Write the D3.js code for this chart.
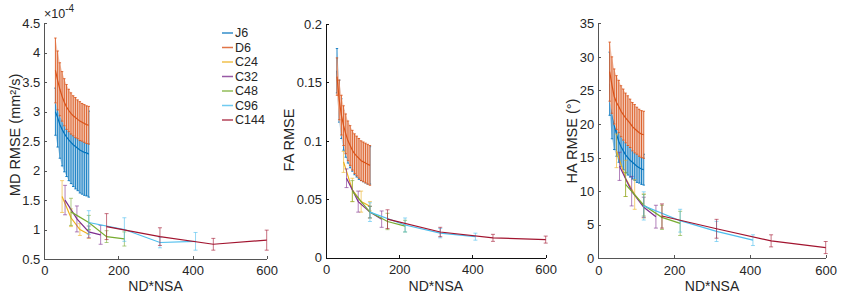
<!DOCTYPE html>
<html>
<head>
<meta charset="utf-8">
<script src="https://cdn.jsdelivr.net/npm/d3@7"></script>
<style>
  body { margin: 0; background: #fff; }
  text { font-family: "Liberation Sans", Arial, sans-serif; fill: #262626; }
</style>
</head>
<body>
<svg id="chart" width="854" height="295"></svg>
<script>
// series names
const seriesNames = ['J6', 'D6', 'C24', 'C32', 'C48', 'C96', 'C144'];

// ND*NSA positions per series
const ndnsaJ6 = [30, 36, 42, 48, 54, 60, 66, 72, 78, 84, 90, 96, 102, 108, 114, 120];
const ndnsaD6 = [30, 36, 42, 48, 54, 60, 66, 72, 78, 84, 90, 96, 102, 108, 114, 120];
const ndnsaC24 = [48, 72, 96, 120];
const ndnsaC32 = [56, 88, 120, 152];
const ndnsaC48 = [72, 120, 168, 216];
const ndnsaC96 = [120, 216, 312, 408];
const ndnsaC144 = [168, 312, 456, 600];

// MD RMSE (x 1e-4 mm^2/s): mean and error half-width
const mdMean = {
  J6: [3.0, 2.9, 2.78, 2.7, 2.63, 2.57, 2.52, 2.48, 2.44, 2.41, 2.38, 2.35, 2.33, 2.31, 2.3, 2.28],
  D6: [3.7, 3.53, 3.38, 3.26, 3.16, 3.08, 3.02, 2.97, 2.93, 2.9, 2.87, 2.84, 2.82, 2.8, 2.78, 2.77],
  C24: [1.56, 1.2, 1.0, 0.92],
  C32: [1.5, 1.18, 0.96, 0.91],
  C48: [1.3, 1.12, 0.88, 0.84],
  C96: [1.12, 1.0, 0.78, 0.8],
  C144: [1.05, 0.88, 0.75, 0.82]
};
const mdErr = {
  J6: [0.4, 0.5, 0.57, 0.62, 0.65, 0.67, 0.69, 0.7, 0.71, 0.72, 0.72, 0.73, 0.73, 0.73, 0.73, 0.73],
  D6: [0.55, 0.5, 0.45, 0.42, 0.4, 0.38, 0.36, 0.35, 0.34, 0.34, 0.33, 0.33, 0.32, 0.32, 0.32, 0.32],
  C24: [0.27, 0.15, 0.1, 0.07],
  C32: [0.25, 0.22, 0.1, 0.16],
  C48: [0.23, 0.12, 0.1, 0.12],
  C96: [0.2, 0.2, 0.09, 0.15],
  C144: [0.22, 0.15, 0.1, 0.17]
};

// FA RMSE
const faMean = {
  J6: [0.16, 0.134, 0.119, 0.109, 0.102, 0.097, 0.093, 0.09, 0.087, 0.085, 0.083, 0.082, 0.081, 0.08, 0.079, 0.079],
  D6: [0.155, 0.135, 0.122, 0.113, 0.106, 0.1, 0.096, 0.092, 0.089, 0.087, 0.085, 0.083, 0.082, 0.081, 0.08, 0.079],
  C24: [0.082, 0.058, 0.048, 0.044],
  C32: [0.068, 0.048, 0.039, 0.033],
  C48: [0.057, 0.039, 0.031, 0.027],
  C96: [0.039, 0.028, 0.021, 0.018],
  C144: [0.033, 0.022, 0.017, 0.0155]
};
const faErr = {
  J6: [0.019, 0.018, 0.017, 0.017, 0.016, 0.016, 0.016, 0.016, 0.016, 0.016, 0.016, 0.016, 0.016, 0.016, 0.016, 0.016],
  D6: [0.016, 0.017, 0.017, 0.017, 0.017, 0.017, 0.017, 0.017, 0.017, 0.017, 0.017, 0.017, 0.017, 0.017, 0.017, 0.017],
  C24: [0.009, 0.01, 0.009, 0.004],
  C32: [0.008, 0.009, 0.005, 0.007],
  C48: [0.009, 0.005, 0.007, 0.005],
  C96: [0.008, 0.006, 0.004, 0.003],
  C144: [0.008, 0.004, 0.003, 0.003]
};

// HA RMSE (degrees)
const haMean = {
  J6: [26, 22, 19.8, 18.5, 17.4, 16.6, 16, 15.4, 15, 14.6, 14.3, 14, 13.7, 13.5, 13.3, 13.2],
  D6: [27.8, 25.8, 24.1, 23.2, 22.6, 21.9, 21.4, 20.9, 20.5, 20.1, 19.6, 19.3, 19.0, 18.7, 18.5, 18.4],
  C24: [16, 11.9, 9.5, 7.8],
  C32: [13.7, 10, 7.6, 6.2],
  C48: [11, 7.9, 6.1, 5.2],
  C96: [7.8, 5.6, 4.0, 2.7],
  C144: [6.3, 4.4, 2.6, 1.6]
};
const haErr = {
  J6: [4.7, 4.2, 3.6, 3.3, 3.1, 2.9, 2.8, 2.7, 2.6, 2.5, 2.5, 2.4, 2.4, 2.3, 2.3, 2.3],
  D6: [4.4, 4.2, 4.1, 4.0, 3.9, 3.8, 3.8, 3.7, 3.7, 3.6, 3.6, 3.6, 3.5, 3.5, 3.5, 3.5],
  C24: [2.5, 2.7, 2.2, 1.8],
  C32: [2.1, 2.2, 1.5, 1.7],
  C48: [1.8, 1.6, 1.8, 1.8],
  C96: [2.1, 1.7, 1.5, 0.8],
  C144: [1.8, 1.4, 0.9, 0.9]
};

// tick labels
const xTicks = [0, 200, 400, 600];
const mdTicks = [0.5, 1, 1.5, 2, 2.5, 3, 3.5, 4, 4.5];
const faTicks = [0, 0.05, 0.1, 0.15, 0.2];
const haTicks = [0, 5, 10, 15, 20, 25, 30, 35];

const xBySeries = { J6: ndnsaJ6, D6: ndnsaD6, C24: ndnsaC24, C32: ndnsaC32, C48: ndnsaC48, C96: ndnsaC96, C144: ndnsaC144 };
const colors = ['#0072BD', '#D95319', '#EDB120', '#7E2F8E', '#77AC30', '#4DBEEE', '#A2142F'];

const svg = d3.select('#chart');

// pale opaque tint of a colour (used for the dense error bands)
function tint(c, a) {
  const rgb = d3.rgb(c);
  return d3.rgb(255 - a * (255 - rgb.r), 255 - a * (255 - rgb.g), 255 - a * (255 - rgb.b)).toString();
}

function drawPanel(p) {
  const g = svg.append('g');
  const x = d3.scaleLinear().domain([0, 600]).range(p.xRange);
  const y = d3.scaleLinear().domain(p.yDomain).range(p.yRange);

  seriesNames.forEach((name, i) => {
    const col = colors[i];
    const dense = name === 'J6' || name === 'D6';
    const pts = xBySeries[name].map((v, j) => ({ x: v, m: p.mean[name][j], e: p.err[name][j] }));
    const sg = g.append('g');

    if (dense) {
      sg.append('path')
        .attr('d', d3.area().x(d => x(d.x)).y0(d => y(d.m - d.e)).y1(d => y(d.m + d.e))(pts))
        .attr('fill', tint(col, 0.32));
    }
    const cap = dense ? 1.2 : 2;
    pts.forEach(d => {
      const px = x(d.x);
      const eg = sg.append('g').attr('stroke', col).attr('stroke-opacity', dense ? 0.85 : 0.6).attr('stroke-width', 1);
      eg.append('line').attr('x1', px).attr('x2', px).attr('y1', y(d.m - d.e)).attr('y2', y(d.m + d.e));
      eg.append('line').attr('x1', px - cap).attr('x2', px + cap).attr('y1', y(d.m - d.e)).attr('y2', y(d.m - d.e));
      eg.append('line').attr('x1', px - cap).attr('x2', px + cap).attr('y1', y(d.m + d.e)).attr('y2', y(d.m + d.e));
    });
    sg.append('path')
      .attr('d', d3.line().x(d => x(d.x)).y(d => y(d.m))(pts))
      .attr('fill', 'none').attr('stroke', col).attr('stroke-width', 1.2);
  });

  // axes
  const xa = g.append('g').attr('transform', `translate(0,${p.yRange[0]})`)
    .call(d3.axisBottom(x).tickValues(xTicks).tickSizeInner(-3).tickSizeOuter(0).tickPadding(7));
  const ya = g.append('g').attr('transform', `translate(${p.xRange[0]},0)`)
    .call(d3.axisLeft(y).tickValues(p.ticks).tickFormat(d3.format('~g')).tickSizeInner(-3).tickSizeOuter(0).tickPadding(4));
  [xa, ya].forEach(a => {
    a.selectAll('path, line').attr('stroke', p.axisColor).attr('shape-rendering', 'crispEdges');
    a.selectAll('text').style('font-size', '13px').attr('fill', '#262626');
  });

  g.append('text')
    .attr('x', (p.xRange[0] + p.xRange[1]) / 2).attr('y', 291)
    .attr('text-anchor', 'middle').style('font-size', '14px')
    .text('ND*NSA');
  g.append('text')
    .attr('transform', `translate(${p.labelX},${p.labelY}) rotate(-90)`)
    .attr('text-anchor', 'middle').attr('dy', '0.35em').style('font-size', '14.5px')
    .text(p.label);
}

drawPanel({ xRange: [44.3, 266.7], yDomain: [0.5, 4.5], yRange: [259, 23.3], ticks: mdTicks,
  mean: mdMean, err: mdErr, label: 'MD RMSE (mm\u00B2/s)', labelX: 15, labelY: 135, axisColor: '#555' });
drawPanel({ xRange: [326, 545.7], yDomain: [0, 0.2], yRange: [257.7, 24], ticks: faTicks,
  mean: faMean, err: faErr, label: 'FA RMSE', labelX: 289, labelY: 140, axisColor: '#111' });
drawPanel({ xRange: [598.3, 825.7], yDomain: [0, 35], yRange: [258.3, 23.3], ticks: haTicks,
  mean: haMean, err: haErr, label: 'HA RMSE (\u00B0)', labelX: 572, labelY: 141, axisColor: '#555' });

// exponent label for MD panel
const ex = svg.append('text').attr('x', 44).attr('y', 18).style('font-size', '12.5px');
ex.append('tspan').text('\u00D710');
ex.append('tspan').attr('dy', -6).style('font-size', '10px').text('-4');

// legend
const lg = svg.append('g');
seriesNames.forEach((name, i) => {
  const ly = 33 + i * 14.5;
  lg.append('line').attr('x1', 222).attr('x2', 233).attr('y1', ly).attr('y2', ly)
    .attr('stroke', colors[i]).attr('stroke-width', 1.5).attr('stroke-opacity', 0.8);
  lg.append('text').attr('x', 235).attr('y', ly).attr('dy', '0.35em').style('font-size', '12.5px').text(name);
});
</script>
</body>
</html>
